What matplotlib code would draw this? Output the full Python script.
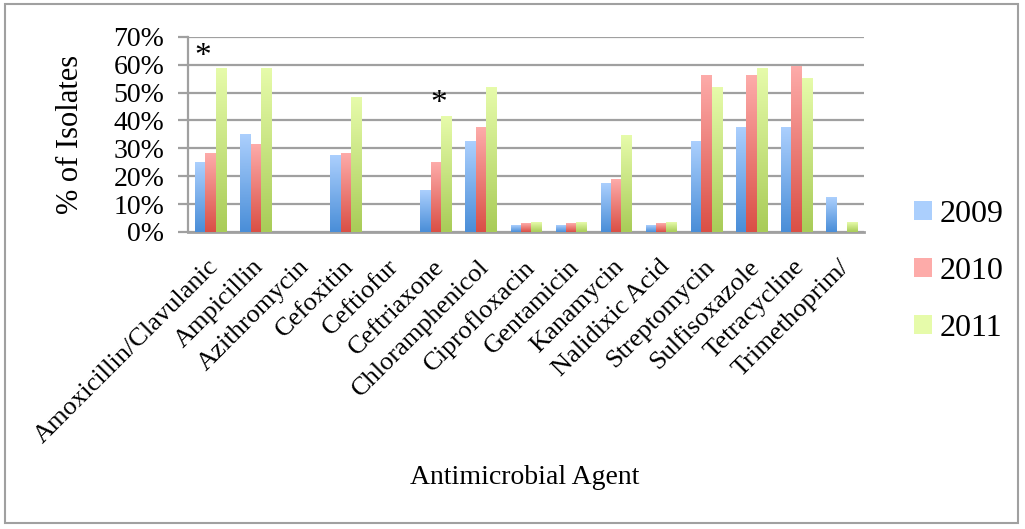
import numpy as np
import matplotlib
matplotlib.use("Agg")
import matplotlib.pyplot as plt
import matplotlib.transforms as mtransforms
from matplotlib.colors import LinearSegmentedColormap
from matplotlib.patches import Rectangle, Patch
from matplotlib.ticker import PercentFormatter

plt.rcParams["font.family"] = ["Liberation Serif", "DejaVu Serif"]

agents = ["Amoxicillin/Clavulanic", "Ampicillin", "Azithromycin", "Cefoxitin", "Ceftiofur",
          "Ceftriaxone", "Chloramphenicol", "Ciprofloxacin", "Gentamicin", "Kanamycin",
          "Nalidixic Acid", "Streptomycin", "Sulfisoxazole", "Tetracycline", "Trimethoprim/"]
years = ["2009", "2010", "2011"]
pct_2009 = [0.250, 0.350, 0.0, 0.274, 0.0, 0.148, 0.324, 0.023, 0.023, 0.173, 0.023, 0.324, 0.374, 0.374, 0.123]
pct_2010 = [0.281, 0.313, 0.0, 0.281, 0.0, 0.250, 0.374, 0.030, 0.030, 0.188, 0.030, 0.561, 0.561, 0.594, 0.0]
pct_2011 = [0.586, 0.586, 0.0, 0.482, 0.0, 0.414, 0.518, 0.033, 0.033, 0.346, 0.033, 0.518, 0.586, 0.550, 0.033]
# significance marks: x in category units, y in fraction
star_x = [-0.18, 5.07]
star_y = [0.628, 0.458]

# top / bottom of the vertical gradient for each year
grad = [("#ABCFFD", "#4A8ED8"), ("#FDABA9", "#DA5046"), ("#E6FBAA", "#A9CC58")]

fig = plt.figure(figsize=(10.25, 5.29), dpi=100)
ax = fig.add_axes([0.1835, 0.5615, 0.6595, 0.369])

x = np.arange(len(agents))
w = 0.23
series = [pct_2009, pct_2010, pct_2011]
for i, vals in enumerate(series):
    bars = ax.bar(x + (i - 1) * w, vals, w, color="none", zorder=3)
    cmap = LinearSegmentedColormap.from_list("g%d" % i, [grad[i][1], grad[i][0]])
    for b in bars:
        h = b.get_height()
        if h <= 0:
            continue
        bx = b.get_x()
        ax.imshow(np.linspace(0, 1, 64).reshape(-1, 1), extent=[bx, bx + b.get_width(), 0, h],
                  origin="lower", aspect="auto", cmap=cmap, zorder=3)

for sx, sy in zip(star_x, star_y):
    ax.text(sx, sy, "*", fontsize=24, ha="center", va="center", zorder=4)

ax.set_xlim(-0.5, len(agents) - 0.5)
ax.set_ylim(0, 0.7)
ax.set_yticks(np.arange(0, 0.71, 0.1))
ax.yaxis.set_major_formatter(PercentFormatter(1.0, decimals=0))
ax.grid(axis="y", color="#A0A0A0", linewidth=1.6, zorder=0)
ax.set_axisbelow(True)
for s in ["top", "right"]:
    ax.spines[s].set_visible(False)
ax.spines["left"].set_color("#A0A0A0")
ax.spines["left"].set_linewidth(1.6)
ax.spines["bottom"].set_color("#A0A0A0")
ax.spines["bottom"].set_linewidth(2)
ax.tick_params(axis="y", length=7, width=1.6, color="#A0A0A0", labelsize=20, pad=10)
ax.tick_params(axis="x", length=0, labelsize=19, pad=17)
ax.set_xticks(x)
ax.set_xticklabels(agents, rotation=45, ha="right", rotation_mode="anchor")
shift = mtransforms.ScaledTranslation(-2.2 / 72, 0, fig.dpi_scale_trans)
for lab in ax.get_xticklabels():
    lab.set_transform(lab.get_transform() + shift)
ax.set_ylabel("% of Isolates", fontsize=22)
ax.yaxis.set_label_coords(-0.153, 0.5)

fig.text(0.512, 0.097, "Antimicrobial Agent", fontsize=20, ha="center", va="center")

handles = [Patch(facecolor=grad[i][0], edgecolor="none") for i in range(3)]
fig.legend(handles, years, loc="center left", bbox_to_anchor=(0.892, 0.487), frameon=False,
           borderaxespad=0, borderpad=0, fontsize=23, handlelength=0.55, handleheight=0.55,
           handletextpad=0.25, labelspacing=0.88)

fig.patches.append(Rectangle((0.005, 0.011), 0.988, 0.982, transform=fig.transFigure,
                             fill=False, edgecolor="#A0A0A0", linewidth=1.5))

fig.savefig("out.png", dpi=100)
